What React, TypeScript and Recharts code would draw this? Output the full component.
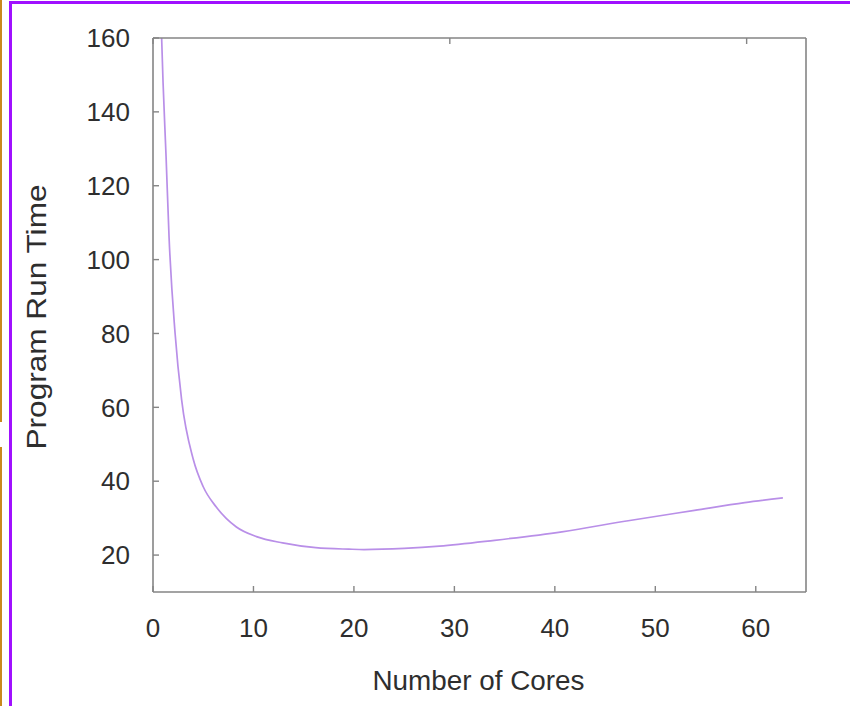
import React from 'react';
import { LineChart, Line, XAxis, YAxis, Label } from 'recharts';

// ─── data ─────────────────────────────────────────────────────────────────────

const cores = [0.86, 1.0, 1.3, 1.6, 2.2, 2.85, 4.0, 5.0, 6.3, 8.3, 10.3, 12.9, 16.2, 19.5, 21, 25, 28.5, 34, 40.7, 47.3, 53.9, 58.9, 62.7];
const runTime = [160, 148, 128, 106, 80, 62, 46, 38.5, 33, 27.6, 25, 23.3, 22, 21.6, 21.5, 21.8, 22.4, 24, 26.3, 29.3, 32.1, 34.2, 35.5];

const xTicks = [0, 10, 20, 30, 40, 50, 60];
const yTicks = [20, 40, 60, 80, 100, 120, 140, 160];

const data = cores.map((c, i) => ({ cores: c, time: runTime[i] }));

const FONT = '"Liberation Sans", Arial, Helvetica, sans-serif';
const AXIS = '#858585';
const TEXT = '#2e2e2e';

// mirror axes keep their tick lines but draw no labels
const NoLabel = () => <g />;

export default function App() {
  return (
    <div style={{ position: 'fixed', left: 0, top: 0, width: 850, height: 706, background: '#fff', overflow: 'hidden' }}>
      {/* screenshot frame */}
      <div style={{ position: 'absolute', left: 0, top: 0, width: 2, height: 422, background: '#c98a1c' }} />
      <div style={{ position: 'absolute', left: 0, top: 447, width: 2, height: 259, background: '#c98a1c' }} />
      <div style={{ position: 'absolute', left: 9, top: 1, width: 841, height: 3, background: '#a010ff' }} />
      <div style={{ position: 'absolute', left: 9, top: 1, width: 3, height: 705, background: '#a010ff' }} />

      <LineChart width={850} height={706} data={data} margin={{ top: 37, right: 43, bottom: 14, left: 13 }}>
        <XAxis
          xAxisId="b"
          dataKey="cores"
          type="number"
          domain={[0, 65]}
          ticks={xTicks}
          interval={0}
          allowDataOverflow
          height={100}
          tickSize={-6}
          tickMargin={33}
          axisLine={{ stroke: AXIS, strokeWidth: 1.6 }}
          tickLine={{ stroke: AXIS, strokeWidth: 1.4 }}
          tick={{ fill: TEXT, fontSize: 26, fontFamily: FONT }}
        >
          <Label
            content={({ viewBox }: any) => (
              <text
                x={viewBox.x + viewBox.width / 2 - 1}
                y={viewBox.y + 98}
                textAnchor="middle"
                fontSize={27}
                fontFamily={FONT}
                fill={TEXT}
                textLength={212}
                lengthAdjust="spacingAndGlyphs"
              >
                Number of Cores
              </text>
            )}
          />
        </XAxis>
        <XAxis
          xAxisId="t"
          orientation="top"
          type="number"
          domain={[0, 65]}
          ticks={xTicks}
          interval={0}
          height={1}
          tickSize={-6}
          axisLine={{ stroke: AXIS, strokeWidth: 1.6 }}
          tickLine={{ stroke: AXIS, strokeWidth: 1.4 }}
          tick={NoLabel}
        />
        <YAxis
          yAxisId="l"
          type="number"
          domain={[10, 160]}
          ticks={yTicks}
          interval={0}
          allowDataOverflow
          width={140}
          tickSize={-6}
          tickMargin={29}
          axisLine={{ stroke: AXIS, strokeWidth: 1.6 }}
          tickLine={{ stroke: AXIS, strokeWidth: 1.4 }}
          tick={{ fill: TEXT, fontSize: 26, fontFamily: FONT }}
        >
          <Label
            content={({ viewBox }: any) => {
              const cx = viewBox.x + 33;
              const cy = viewBox.y + viewBox.height / 2 + 2;
              return (
                <text
                  x={cx}
                  y={cy}
                  transform={`rotate(-90, ${cx}, ${cy})`}
                  textAnchor="middle"
                  fontSize={28}
                  fontFamily={FONT}
                  fill={TEXT}
                  textLength={265}
                  lengthAdjust="spacingAndGlyphs"
                >
                  Program Run Time
                </text>
              );
            }}
          />
        </YAxis>
        <YAxis
          yAxisId="r"
          orientation="right"
          type="number"
          domain={[10, 160]}
          ticks={yTicks}
          interval={0}
          width={1}
          tickSize={-6}
          axisLine={{ stroke: AXIS, strokeWidth: 1.6 }}
          tickLine={{ stroke: AXIS, strokeWidth: 1.4 }}
          tick={NoLabel}
        />
        <Line
          xAxisId="b"
          yAxisId="l"
          type="monotone"
          dataKey="time"
          stroke="#b98fe8"
          strokeWidth={1.7}
          dot={false}
          isAnimationActive={false}
        />
      </LineChart>
    </div>
  );
}
